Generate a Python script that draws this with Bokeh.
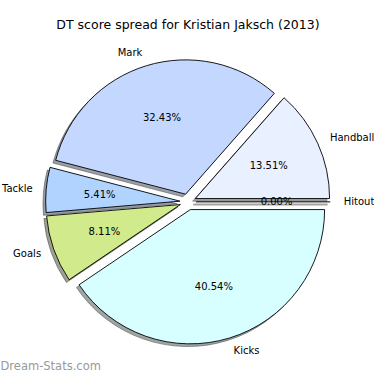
import numpy as np
from bokeh.plotting import figure
from bokeh.models import ColumnDataSource, Range1d
from bokeh.embed import file_html
from bokeh.resources import INLINE
from bokeh.core.properties import value

# ---- data ----
title_text = "DT score spread for Kristian Jaksch (2013)"
labels = ["Handball", "Mark", "Tackle", "Goals", "Kicks", "Hitout"]
counts = [5, 12, 2, 3, 15, 0]
colors = ["#E9F0FF", "#C4D8FF", "#B0D4FF", "#D0EA8C", "#D8FFFF", "#FFE4C4"]
watermark = "Dream-Stats.com"

# ---- layout (pie radius = 1 data unit) ----
explode = 0.06
shadow_off = 0.02
label_dist = 1.1
pct_dist = 0.6
FONT = "DejaVu Sans"

vals = np.array(counts, dtype=float)
frac = vals / vals.sum()
ends = np.cumsum(frac) * 2 * np.pi
starts = np.concatenate([[0.0], ends[:-1]])
mids = (starts + ends) / 2
cx = explode * np.cos(mids)
cy = explode * np.sin(mids)


def darken(h, f=0.3):
    h = h.lstrip("#")
    r, g, b = (int(h[i:i + 2], 16) for i in (0, 2, 4))
    return "#%02x%02x%02x" % (int(r * f), int(g * f), int(b * f))


shadows = [darken(c) for c in colors]
nz = frac > 0
zz = ~nz

wsrc = ColumnDataSource(dict(
    x=cx[nz], y=cy[nz], sx=cx[nz] - shadow_off, sy=cy[nz] - shadow_off,
    start=starts[nz], end=ends[nz],
    color=[c for c, k in zip(colors, nz) if k],
    shadow=[c for c, k in zip(shadows, nz) if k],
))
zsrc = ColumnDataSource(dict(
    x0=cx[zz], y0=cy[zz],
    x1=cx[zz] + np.cos(starts[zz]), y1=cy[zz] + np.sin(starts[zz]),
    sx0=cx[zz] - shadow_off, sy0=cy[zz] - shadow_off,
    sx1=cx[zz] + np.cos(starts[zz]) - shadow_off,
    sy1=cy[zz] + np.sin(starts[zz]) - shadow_off,
    shadow=[c for c, k in zip(shadows, zz) if k],
))
tsrc = ColumnDataSource(dict(
    lx=cx + label_dist * np.cos(mids), ly=cy + label_dist * np.sin(mids),
    lalign=["left" if np.cos(m) > 0 else "right" for m in mids],
    label=labels,
    px=cx + pct_dist * np.cos(mids), py=cy + pct_dist * np.sin(mids),
    pct=["%.2f%%" % (f * 100) for f in frac],
))

W = 374
p = figure(width=W, height=W, output_backend="svg", toolbar_location=None,
           x_range=Range1d(-1.396, 1.389), y_range=Range1d(-1.286, 1.5),
           min_border=0)
p.axis.visible = False
p.grid.visible = False
p.outline_line_color = None
p.background_fill_color = "white"
p.border_fill_color = "white"

p.wedge(x="sx", y="sy", radius=1, start_angle="start", end_angle="end",
        fill_color="shadow", fill_alpha=0.5, line_color="shadow",
        line_alpha=0.5, line_width=1, source=wsrc)
p.segment(x0="sx0", y0="sy0", x1="sx1", y1="sy1", line_color="shadow",
          line_alpha=0.5, line_width=2, source=zsrc)
p.wedge(x="x", y="y", radius=1, start_angle="start", end_angle="end",
        fill_color="color", line_color="black", line_width=0.9, source=wsrc)
p.segment(x0="x0", y0="y0", x1="x1", y1="y1", line_color="black",
          line_width=1, source=zsrc)

p.text(x="lx", y="ly", text="label", text_align="lalign",
       text_baseline="middle", text_font=value(FONT), text_font_size="10px",
       text_color="black", source=tsrc)
p.text(x="px", y="py", text="pct", text_align="center",
       text_baseline="middle", text_font=value(FONT), text_font_size="10px",
       text_color="black", source=tsrc)

p.text(x=[0.0], y=[1.321], text=[title_text], text_align="center",
       text_baseline="middle", text_font=value(FONT), text_font_size="12.5px",
       text_color="black")
p.text(x=[-1.396], y=[-1.221], text=[watermark], text_align="left",
       text_baseline="middle", text_font=value(FONT), text_font_size="11.5px",
       text_color="#999999")

open("out.html", "w").write(file_html(p, INLINE))
